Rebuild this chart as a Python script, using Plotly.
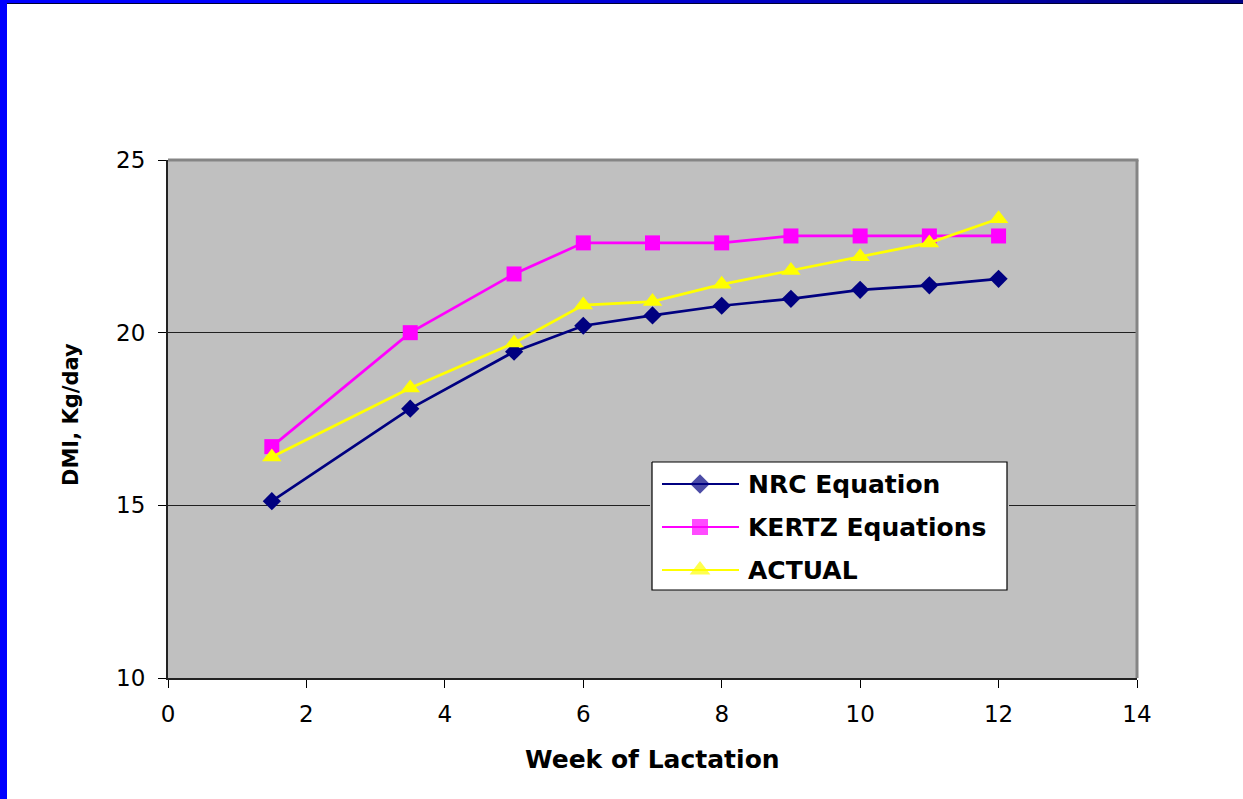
import plotly.graph_objects as go

# Dry matter intake by week of lactation
weeks = [1.5, 3.5, 5, 6, 7, 8, 9, 10, 11, 12]
nrc_equation = [15.12, 17.8, 19.45, 20.2, 20.5, 20.78, 20.98, 21.24, 21.37, 21.56]
kertz_equations = [16.7, 20.0, 21.7, 22.6, 22.6, 22.6, 22.8, 22.8, 22.8, 22.8]
actual = [16.4, 18.4, 19.7, 20.8, 20.9, 21.4, 21.8, 22.2, 22.6, 23.3]

series_names = ["NRC Equation", "KERTZ Equations", "ACTUAL"]
series_values = [nrc_equation, kertz_equations, actual]
series_colors = ["#000080", "#FF00FF", "#FFFF00"]
series_symbols = ["diamond", "square", "triangle-up"]
series_sizes = [14, 15, 17]

x_ticks = [0, 2, 4, 6, 8, 10, 12, 14]
y_ticks = [10, 15, 20, 25]

W, H = 1243, 799
L, R, T, B = 168, 106, 160, 121
PW, PH = W - L - R, H - T - B


def px_x(p):
    return (p - L) / PW


def px_y(p):
    return (H - B - p) / PH


fig = go.Figure()

for name, vals, color, sym, size in zip(series_names, series_values,
                                        series_colors, series_symbols, series_sizes):
    fig.add_trace(go.Scatter(
        x=weeks, y=vals, name=name, mode="lines+markers",
        line=dict(color=color, width=2.7),
        marker=dict(symbol=sym, size=size, color=color, line=dict(width=0)),
        showlegend=False, cliponaxis=False,
    ))

# Legend panel drawn on its own small axis pair (pixel-like units)
LB = dict(x0=650, x1=1009, y0=460, y1=592)
fig.add_trace(go.Scatter(
    x=[652, 1007, 1007, 652, 652], y=[462, 462, 590, 590, 462],
    mode="lines", fill="toself", fillcolor="white",
    line=dict(color="black", width=1.2),
    xaxis="x2", yaxis="y2", showlegend=False, hoverinfo="skip",
))
row_y = [484, 527, 570]
for name, color, sym, size, ry in zip(series_names, series_colors,
                                      series_symbols, series_sizes, row_y):
    fig.add_trace(go.Scatter(
        x=[662, 700, 739], y=[ry, ry, ry], mode="lines+markers",
        line=dict(color=color, width=2.2),
        marker=dict(symbol=sym, size=[0, size + 1, 0], color=color, line=dict(width=0)),
        xaxis="x2", yaxis="y2", showlegend=False, hoverinfo="skip",
    ))
    fig.add_annotation(
        x=746, y=ry, xref="x2", yref="y2", text=name, showarrow=False,
        xanchor="left", yanchor="middle",
        font=dict(family="DejaVu Sans", size=25, color="black", weight="bold"),
    )

shapes = []
# gray frame on top and right of the plot area
shapes.append(dict(type="line", xref="paper", yref="paper", x0=0, x1=1.0015, y0=1, y1=1,
                   line=dict(color="#858585", width=3), layer="above"))
shapes.append(dict(type="line", xref="paper", yref="paper", x0=1, x1=1, y0=0, y1=1,
                   line=dict(color="#858585", width=3), layer="above"))
# blue slide frame: left bar and top bar (fading to navy)
shapes.append(dict(type="rect", xref="paper", yref="paper",
                   x0=px_x(0), x1=px_x(7), y0=px_y(H), y1=px_y(0),
                   fillcolor="#0000FF", line=dict(width=0), layer="above"))
n_seg = 24
start, end = 300, W
shapes.append(dict(type="rect", xref="paper", yref="paper",
                   x0=px_x(0), x1=px_x(start), y0=px_y(3), y1=px_y(0),
                   fillcolor="#0000FF", line=dict(width=0), layer="above"))
for i in range(n_seg):
    a = start + (end - start) * i / n_seg
    b = start + (end - start) * (i + 1) / n_seg
    t = (i + 0.5) / n_seg
    blue = int(round(255 - (255 - 130) * t))
    shapes.append(dict(type="rect", xref="paper", yref="paper",
                       x0=px_x(a), x1=px_x(b) + 0.001, y0=px_y(3), y1=px_y(0),
                       fillcolor=f"rgb(0,0,{blue})", line=dict(width=0), layer="above"))
shapes.append(dict(type="line", xref="paper", yref="paper",
                   x0=px_x(7), x1=px_x(W), y0=px_y(3.5), y1=px_y(3.5),
                   line=dict(color="#000033", width=1), layer="above"))

tick_font = dict(family="DejaVu Sans", size=23, color="black")

fig.update_layout(
    width=W, height=H,
    margin=dict(l=L, r=R, t=T, b=B, pad=0),
    paper_bgcolor="white",
    plot_bgcolor="#C0C0C0",
    shapes=shapes,
    xaxis=dict(
        range=[0, 14], tickvals=x_ticks, ticktext=[str(v) for v in x_ticks],
        showgrid=False, zeroline=False,
        showline=True, linecolor="#222222", linewidth=2,
        ticks="outside", ticklen=8, tickwidth=1, tickcolor="black",
        tickfont=tick_font, ticklabelstandoff=6,
    ),
    yaxis=dict(
        range=[10, 25], tickvals=y_ticks, ticktext=[str(v) for v in y_ticks],
        showgrid=True, gridcolor="#202020", gridwidth=1, zeroline=False,
        showline=True, linecolor="#222222", linewidth=2,
        ticks="outside", ticklen=8, tickwidth=1, tickcolor="black",
        tickfont=tick_font, ticklabelstandoff=8,
    ),
    xaxis2=dict(domain=[px_x(LB["x0"]), px_x(LB["x1"])], range=[LB["x0"], LB["x1"]],
                visible=False, fixedrange=True, anchor="y2"),
    yaxis2=dict(domain=[px_y(LB["y1"]), px_y(LB["y0"])], range=[LB["y1"], LB["y0"]],
                visible=False, fixedrange=True, anchor="x2"),
    annotations=list(fig.layout.annotations) + [
        dict(x=0.5, y=px_y(759), xref="paper", yref="paper",
             text="Week of Lactation", showarrow=False,
             xanchor="center", yanchor="middle",
             font=dict(family="DejaVu Sans", size=25, color="black", weight="bold")),
        dict(x=px_x(71), y=px_y(415), xref="paper", yref="paper",
             text="DMI, Kg/day", showarrow=False, textangle=-90,
             xanchor="center", yanchor="middle",
             font=dict(family="DejaVu Sans", size=21, color="black", weight="bold")),
    ],
    showlegend=False,
)

fig.write_html("out.html")
